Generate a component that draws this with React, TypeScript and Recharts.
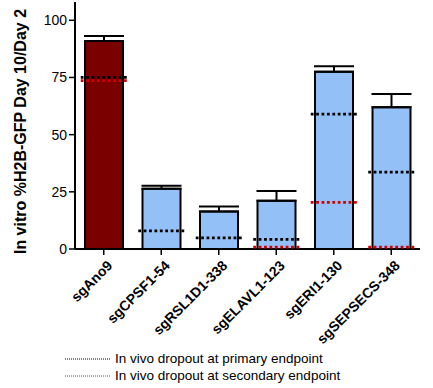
import React from 'react';
import { ComposedChart, Bar, Cell, ErrorBar, Scatter, XAxis, YAxis } from 'recharts';

const categories = ['sgAno9', 'sgCPSF1-54', 'sgRSL1D1-338', 'sgELAVL1-123', 'sgERI1-130', 'sgSEPSECS-348'];
const invitro = [91, 26.3, 16.4, 21.1, 77.5, 62];
const errors = [2.1, 1.4, 2.2, 4.3, 2.4, 5.8];
const primaryDropout = [75, 7.9, 4.9, 4.2, 59, 33.6];
const secondaryDropout: (number | null)[] = [73.6, null, null, 0.8, 20.4, 0.8];
const barColors = ['#7a0000', '#93c1f7', '#93c1f7', '#93c1f7', '#93c1f7', '#93c1f7'];
const yTicks = [0, 25, 50, 75, 100];

const data = categories.map((name, i) => ({
  name,
  value: invitro[i],
  err: [0, errors[i]],
  primary: primaryDropout[i],
  secondary: secondaryDropout[i],
}));

const FONT = '"Liberation Sans", Arial, Helvetica, sans-serif';

const DottedMark = (color: string) => (props: any) => {
  const { cx, cy } = props;
  if (cx == null || cy == null || isNaN(cy)) return <g />;
  return (
    <line x1={cx - 23} x2={cx + 23} y1={cy} y2={cy} stroke={color} strokeWidth={2.8} strokeDasharray="2.8 2.6" />
  );
};

const XTick = (props: any) => {
  const { x, y, payload } = props;
  return (
    <g transform={`translate(${x + 6},${y + 6})`}>
      <text x={0} y={0} textAnchor="end" transform="rotate(-45)" fontFamily={FONT} fontWeight="bold" fontSize={14} fill="#000" dy={5}>
        {payload.value}
      </text>
    </g>
  );
};

const YLabel = (props: any) => {
  const { viewBox } = props;
  const x = viewBox.x + 20;
  const y = viewBox.y + viewBox.height / 2 + 6;
  return (
    <text x={x} y={y} transform={`rotate(-90, ${x}, ${y})`} textAnchor="middle" dominantBaseline="central" fontFamily={FONT} fontWeight="bold" fontSize={16} fill="#000">
      In vitro %H2B-GFP Day 10/Day 2
    </text>
  );
};

const legendItems = [
  { label: 'In vivo dropout at primary endpoint', color: '#000' },
  { label: 'In vivo dropout at secondary endpoint', color: '#d01818' },
];

export default function App() {
  return (
    <div style={{ position: 'absolute', left: 0, top: 0, width: 433, height: 388, background: '#fff' }}>
      <ComposedChart width={433} height={388} data={data} margin={{ top: 2, right: 13, left: 0, bottom: 0 }}>
        <XAxis
          dataKey="name"
          height={139}
          tick={<XTick />}
          tickSize={6}
          axisLine={{ stroke: '#000', strokeWidth: 2 }}
          tickLine={{ stroke: '#000', strokeWidth: 1.5 }}
          interval={0}
        />
        <YAxis
          width={75}
          domain={[0, 108]}
          ticks={yTicks}
          tickSize={6}
          tickMargin={2}
          axisLine={{ stroke: '#000', strokeWidth: 2 }}
          tickLine={{ stroke: '#000', strokeWidth: 1.5 }}
          tick={{ fill: '#000', fontSize: 14, fontFamily: FONT }}
          label={<YLabel />}
          allowDataOverflow
        />
        <Bar dataKey="value" barSize={38} stroke="#000" strokeWidth={2} isAnimationActive={false}>
          {data.map((d, i) => (
            <Cell key={d.name} fill={barColors[i]} />
          ))}
          <ErrorBar dataKey="err" width={20} stroke="#000" strokeWidth={2} direction="y" />
        </Bar>
        <Scatter dataKey="secondary" shape={DottedMark('#d00000')} isAnimationActive={false} />
        <Scatter dataKey="primary" shape={DottedMark('#000')} isAnimationActive={false} />
      </ComposedChart>
      <div style={{ position: 'absolute', left: 65, top: 350, fontFamily: FONT, fontSize: 13.5, color: '#000' }}>
        {legendItems.map((item) => (
          <div key={item.label} style={{ display: 'flex', alignItems: 'center', height: 17 }}>
            <svg width={46} height={6} style={{ marginRight: 4 }}>
              <line x1={0} x2={45} y1={3} y2={3} stroke={item.color} strokeWidth={1} strokeDasharray="1 1" />
            </svg>
            <span>{item.label}</span>
          </div>
        ))}
      </div>
    </div>
  );
}
